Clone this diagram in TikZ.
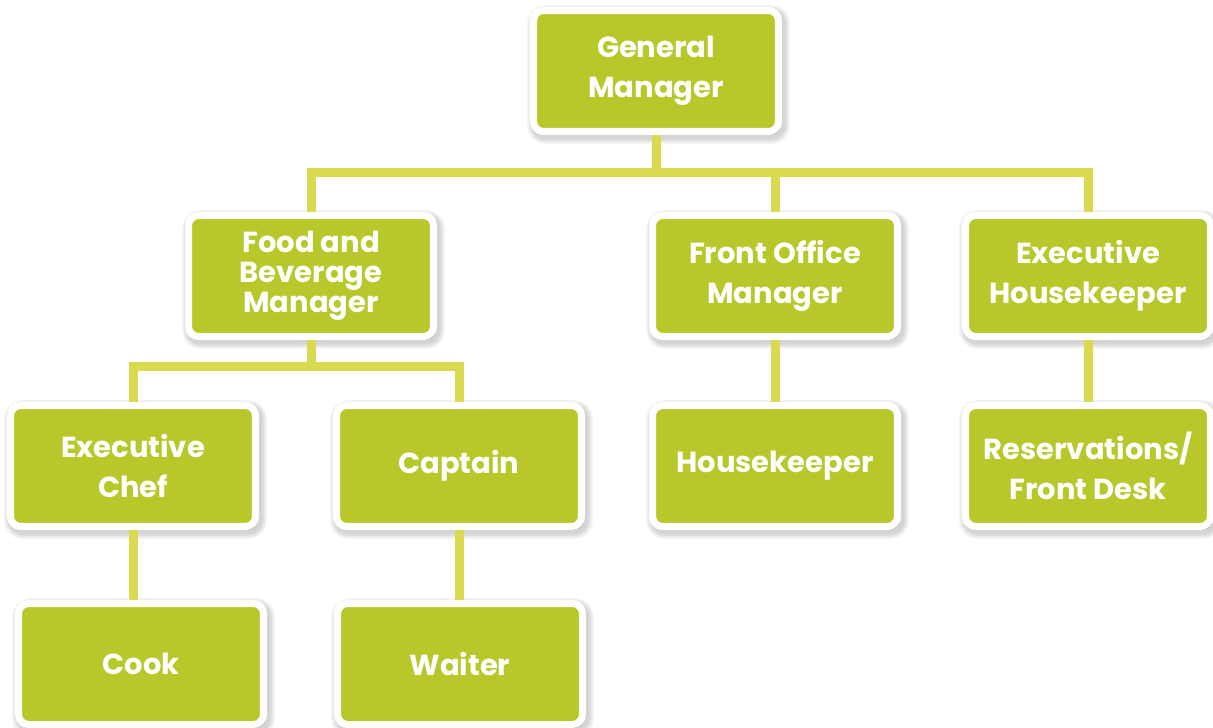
\documentclass[tikz,border=0pt]{standalone}
\usepackage{fontspec}
\setmainfont{Poppins}
\usetikzlibrary{shadows}
\definecolor{postgreen}{HTML}{B8C82B}
\definecolor{linkyellow}{HTML}{D9DA50}
\tikzset{
  soft shadow/.style={general shadow={shadow xshift=0.05cm, shadow yshift=-0.07cm,
    fill=black, draw=black, line width=#1, opacity=0.045}},
  post/.style={fill=postgreen, draw=white, line width=0.14cm, rounded corners=0.2cm,
    minimum width=4.9cm, minimum height=2.42cm, inner sep=0pt, align=center,
    text=white, font=\bfseries\fontsize{16.5}{22.7}\selectfont,
    soft shadow=0.36cm, soft shadow=0.3cm, soft shadow=0.24cm, soft shadow=0.18cm},
  link/.style={draw=linkyellow, line width=0.18cm, line join=miter}
}
\begin{document}
\begin{tikzpicture}[x=0.02cm, y=-0.02cm]
        \useasboundingbox (0,0) rectangle (1213,727);

        % Draw the posts, top to bottom
        \node[post] (gm) at (656,71) {General\\Manager};
        \node[post, font=\bfseries\fontsize{16.5}{17}\selectfont] (fb) at (311,276) {Food and\\Beverage\\Manager};
        \node[post] (fo) at (775,276) {Front Office\\Manager};
        \node[post] (eh) at (1088,276) {Executive\\Housekeeper};
        \node[post] (chef) at (133,466) {Executive\\Chef};
        \node[post] (capt) at (459,466) {Captain};
        \node[post] (hk) at (775,466) {Housekeeper};
        \node[post] (res) at (1088,466) {Reservations/\\Front Desk};
        \node[post] (cook) at (141,664) {Cook};
        \node[post] (wait) at (460,664) {Waiter};

        % Bus lines
        \coordinate (bus1) at (656,172);
        \coordinate (bus2) at (306,366);

        % Draw the links
        \draw[link] (gm.south) -- (gm.south |- bus1);
        \draw[link] (fb.north) |- (bus1) -| (eh.north);
        \draw[link] (fo.north) -- (fo.north |- bus1);
        \draw[link] (fb.south) -- (fb.south |- bus2);
        \draw[link] (chef.north) |- (bus2) -| (capt.north);
        \draw[link] (fo) -- (hk); % Front Office to Housekeeper
        \draw[link] (eh) -- (res);
        \draw[link] (chef.south) -- (chef.south |- cook.north);
        \draw[link] (capt.south) -- (capt.south |- wait.north);
    \end{tikzpicture}
\end{document}
